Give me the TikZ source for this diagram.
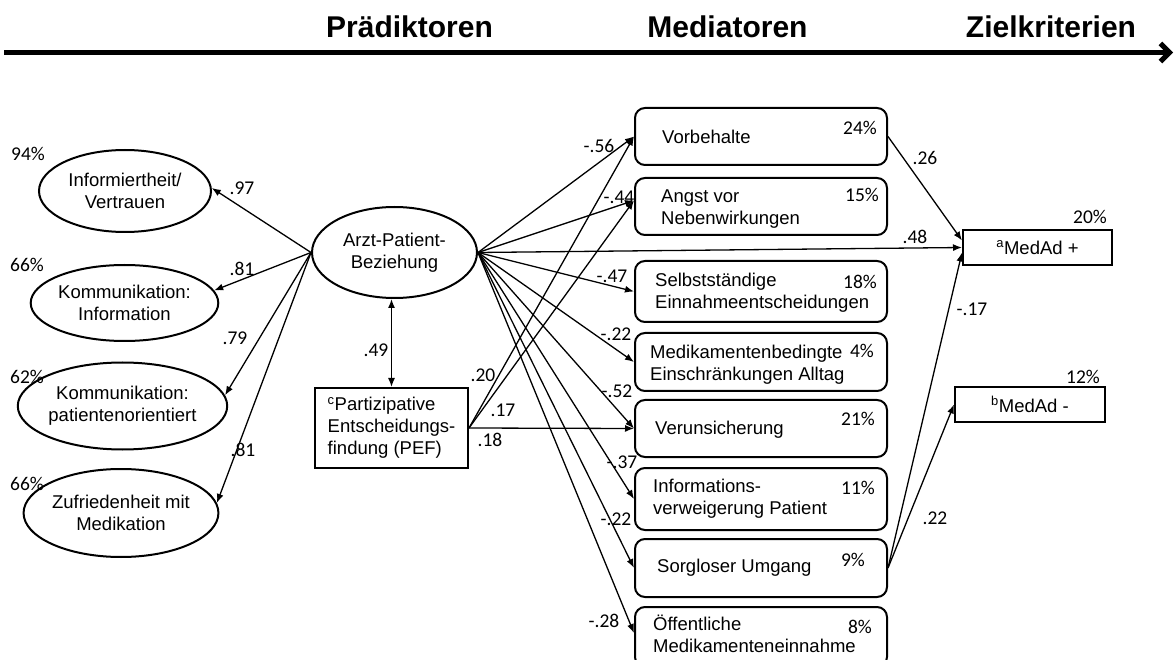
\documentclass[tikz,border=0pt]{standalone}
\usepackage{fontspec}
\setmainfont{Liberation Sans}
\newfontfamily\numfont{Carlito}
\usetikzlibrary{arrows.meta,shapes.geometric}
\begin{document}
\begin{tikzpicture}[x=1pt,y=-1pt,
  every node/.style={font=\fontsize{18.5}{22}\selectfont},
  ell/.style={draw,ellipse,line width=2pt,inner sep=0pt,align=center},
  medbox/.style={draw,rounded corners=10pt,line width=2pt,minimum width=252pt,inner sep=0pt},
  outbox/.style={draw,line width=2pt,minimum width=150pt,minimum height=35pt,inner sep=0pt},
  txt/.style={anchor=west,align=left,inner sep=0pt},
  num/.style={font=\numfont\fontsize{19.5}{22}\selectfont,inner sep=0pt},
  head/.style={font=\bfseries\fontsize{30}{36}\selectfont,anchor=base,inner sep=0pt},
  arr/.style={-{Latex[length=9pt,width=7pt]},line width=1.3pt},
  darr/.style={{Latex[length=9pt,width=7pt]}-{Latex[length=9pt,width=7pt]},line width=1.3pt},
]
\useasboundingbox (0,0) rectangle (1176,660);

% axis and headings
\coordinate (axs) at (4,52.5);
\coordinate (axe) at (1173,52.5);
\draw[line width=5pt,-{Straight Barb[length=9pt,width=18pt]}] (axs) -- (axe);
\node[head] (hp) at (409.5,38) {Prädiktoren};
\node[head] (hm) at (727.5,38) {Mediatoren};
\node[head] (hz) at (1051,38) {Zielkriterien};

% left ellipses
\node[ell,minimum width=172pt,minimum height=82pt] (e1) at (125,191) {Informiertheit/\\Vertrauen};
\node[ell,minimum width=173pt,minimum height=76pt] (e2) at (124.5,303) {Kommunikation:\\Information};
\node[ell,minimum width=171pt,minimum height=87pt] (e3) at (122.5,406) {Kommunikation:\\patientenorientiert};
\node[ell,minimum width=172pt,minimum height=88pt] (e4) at (121,513) {Zufriedenheit mit\\Medikation};
\node[num] (p1) at (28,154) {94\%};
\node[num] (p2) at (27,265) {66\%};
\node[num] (p3) at (27,377) {62\%};
\node[num] (p4) at (27,484) {66\%};

% central predictors
\node[ell,minimum width=165pt,minimum height=91pt] (arzt) at (394.5,252.5) {Arzt-Patient-\\Beziehung};
\node[draw,line width=2pt,minimum width=153pt,minimum height=80pt,inner sep=0pt,align=left] (pef) at (391.5,428) {\textsuperscript{c}Partizipative\\Entscheidungs-\\findung (PEF)};

% mediator boxes
\node[medbox,minimum height=57pt] (vor) at (761,136.5) {};
\node[medbox,minimum height=57pt] (angst) at (761,206.5) {};
\node[medbox,minimum height=61pt] (selbst) at (761,291.5) {};
\node[medbox,minimum height=58pt] (medik) at (761,362) {};
\node[medbox,minimum height=57pt] (verun) at (761,428.5) {};
\node[medbox,minimum height=62pt] (inform) at (761,499) {};
\node[medbox,minimum height=58pt] (sorg) at (761,568) {};
\node[medbox,minimum height=60pt] (oeff) at (761,637) {};

\node[txt] (tvor) at (662,137) {Vorbehalte};
\node[txt] (tangst) at (661,209) {Angst vor\\Nebenwirkungen};
\node[txt] (tselbst) at (655,292.5) {Selbstständige\\Einnahmeentscheidungen};
\node[txt] (tmedik) at (650,364.5) {Medikamentenbedingte\\Einschränkungen Alltag};
\node[txt] (tverun) at (655,430) {Verunsicherung};
\node[txt] (tinform) at (653,499) {Informations-\\verweigerung Patient};
\node[txt] (tsorg) at (657,568) {Sorgloser Umgang};
\node[txt] (toeff) at (653,634) {Öffentliche\\Medikamenteneinnahme};

\node[num] (qvor) at (860,128) {24\%};
\node[num] (qangst) at (862,195) {15\%};
\node[num] (qselbst) at (860,282) {18\%};
\node[num] (qmedik) at (862,351) {4\%};
\node[num] (qverun) at (858,419) {21\%};
\node[num] (qinform) at (858,488) {11\%};
\node[num] (qsorg) at (853,560) {9\%};
\node[num] (qoeff) at (860,627) {8\%};

% outcome boxes
\node[outbox,minimum width=149pt] (medp) at (1037.5,247.5) {\textsuperscript{a}MedAd +};
\node[outbox] (medm) at (1030,404.5) {\textsuperscript{b}MedAd -};
\node[num] (qmedp) at (1090,217) {20\%};
\node[num] (qmedm) at (1083,377) {12\%};

% arrows to left ellipses
\draw[arr] (arzt.west) -- (e1.2);
\draw[arr] (arzt.west) -- (e2.8);
\draw[arr] (arzt.west) -- (e3.6);
\draw[arr] (arzt.west) -- (e4.6);
\node[num] (l1) at (242,188) {.97};
\node[num] (l2) at (242,269) {.81};
\node[num] (l3) at (235,338) {.79};
\node[num] (l4) at (243,450) {.81};

% Arzt <-> PEF
\draw[darr] (arzt.south -| pef.north) -- (pef.north);
\node[num] (l49) at (376,350) {.49};

% Arzt -> mediators
\draw[arr] (arzt.east) -- (vor.west);
\draw[arr] (arzt.east) -- ([yshift=6pt]angst.west);
\draw[arr] (arzt.east) -- (selbst.west);
\draw[arr] (arzt.east) -- (medik.west);
\draw[arr] (arzt.east) -- (verun.west);
\draw[arr] (arzt.east) -- (inform.west);
\draw[arr] (arzt.east) -- (sorg.west);
\draw[arr] (arzt.east) -- ([yshift=4pt]oeff.west);
\draw[arr] (arzt.east) -- (medp.west);
\node[num] (m1) at (599,146) {-.56};
\node[num] (m2) at (619,197) {-.44};
\node[num] (m3) at (612,276) {-.47};
\node[num] (m4) at (616,334) {-.22};
\node[num] (m5) at (617,391) {-.52};
\node[num] (m6) at (622,462) {-.37};
\node[num] (m7) at (616,519) {-.22};
\node[num] (m8) at (604,621) {-.28};
\node[num] (m9) at (915,237) {.48};

% PEF -> mediators
\draw[arr] (pef.east) -- (vor.west);
\draw[arr] (pef.east) -- ([yshift=6pt]angst.west);
\draw[arr] (pef.east) -- (verun.west);
\node[num] (n1) at (483,375) {.20};
\node[num] (n2) at (503,410) {.17};
\node[num] (n3) at (490,440) {.18};

% mediators -> outcomes
\draw[arr] (vor.east) -- ([yshift=7pt]medp.west);
\draw[arr] (sorg.east) -- ([yshift=-5pt]medp.west);
\draw[arr] (sorg.east) -- (medm.west);
\node[num] (o1) at (925,158) {.26};
\node[num] (o2) at (972,309) {-.17};
\node[num] (o3) at (935,518) {.22};
\end{tikzpicture}
\end{document}
